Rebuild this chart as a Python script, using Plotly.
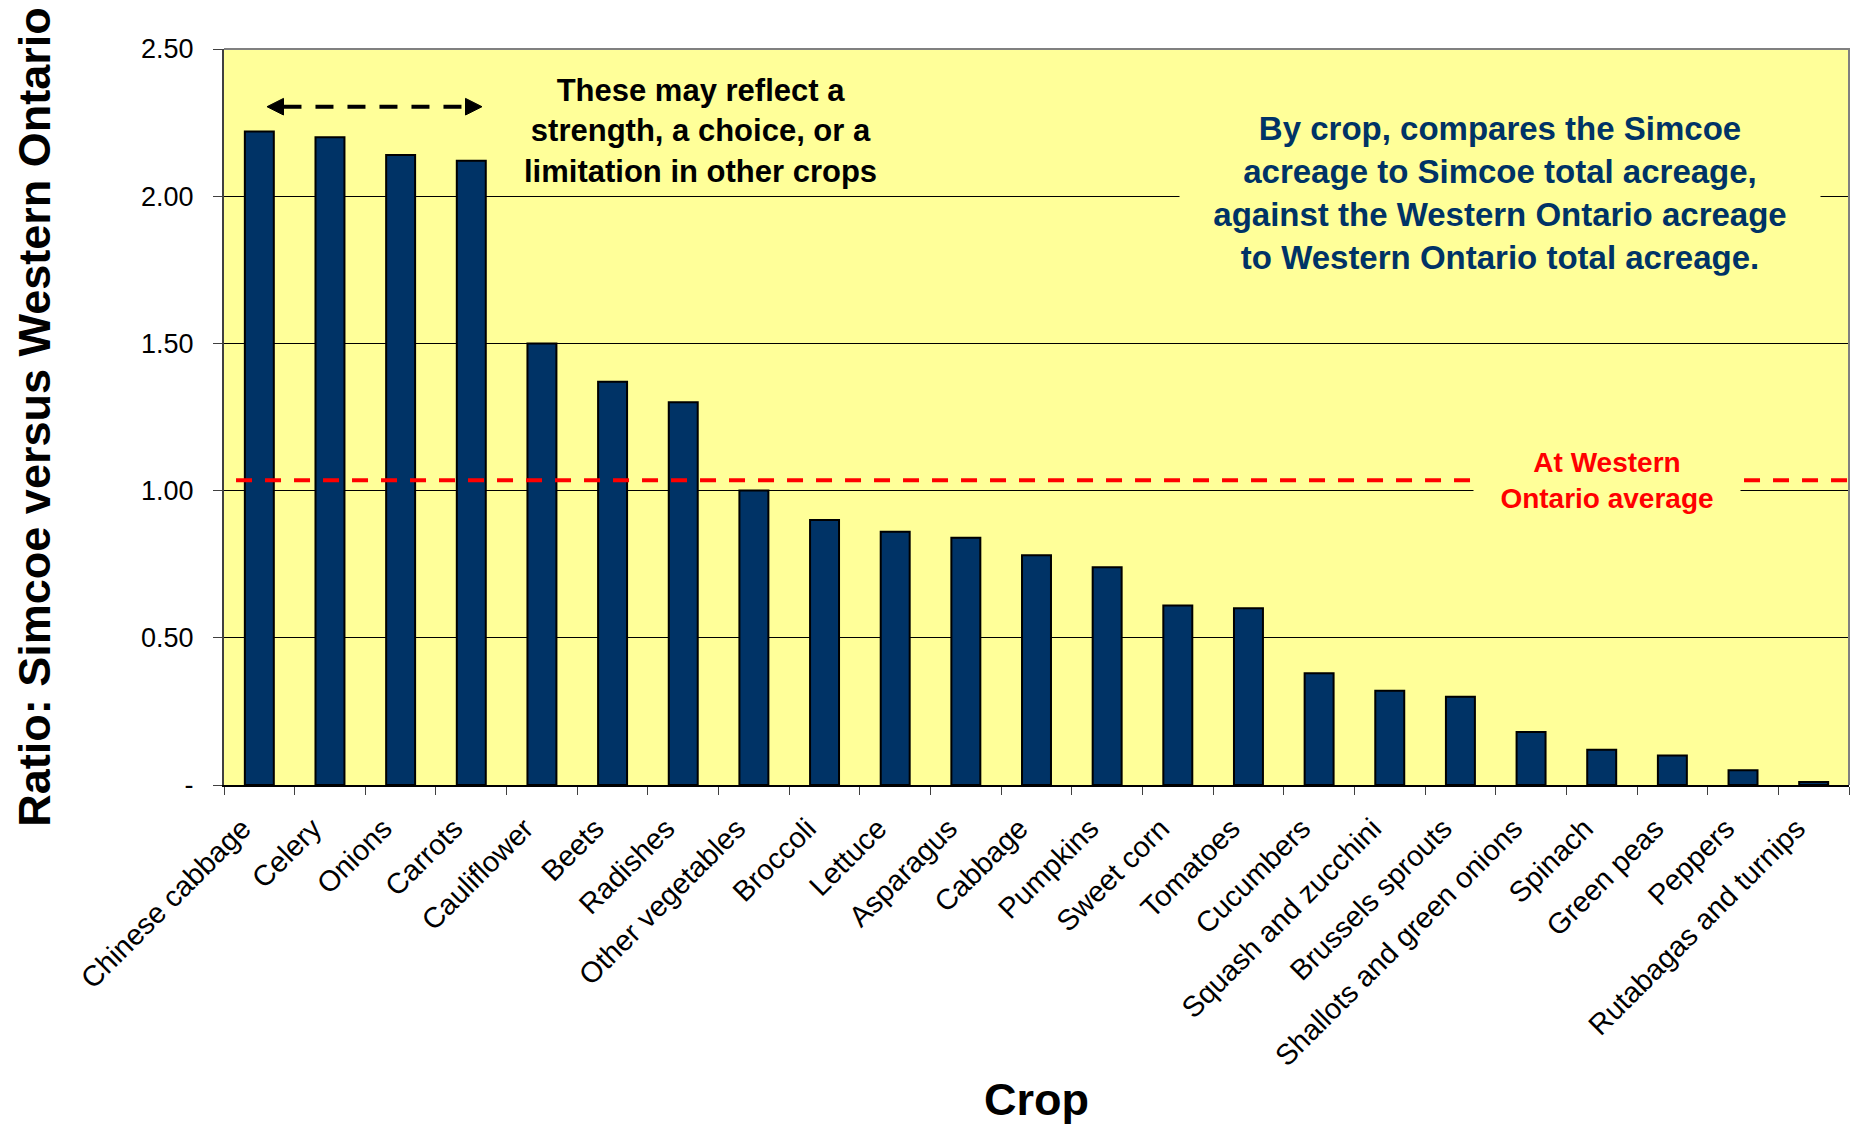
import plotly.graph_objects as go

# Crop ratios: Simcoe share of acreage vs Western Ontario share of acreage
crops = [
    "Chinese cabbage", "Celery", "Onions", "Carrots", "Cauliflower", "Beets",
    "Radishes", "Other vegetables", "Broccoli", "Lettuce", "Asparagus",
    "Cabbage", "Pumpkins", "Sweet corn", "Tomatoes", "Cucumbers",
    "Squash and zucchini", "Brussels sprouts", "Shallots and green onions",
    "Spinach", "Green peas", "Peppers", "Rutabagas and turnips",
]
ratios = [
    2.22, 2.20, 2.14, 2.12, 1.50, 1.37,
    1.30, 1.00, 0.90, 0.86, 0.84,
    0.78, 0.74, 0.61, 0.60, 0.38,
    0.32, 0.30, 0.18,
    0.12, 0.10, 0.05, 0.01,
]
y_tickvals = [0, 0.5, 1.0, 1.5, 2.0, 2.5]
y_ticktext = ["-", "0.50", "1.00", "1.50", "2.00", "2.50"]
western_average = 1.035

FONT = "'Liberation Sans', Arial, sans-serif"
YELLOW = "#FFFF99"
NAVY = "#003366"

fig = go.Figure()
fig.add_trace(go.Bar(
    x=crops, y=ratios,
    marker=dict(color=NAVY, line=dict(color="black", width=2)),
    hoverinfo="x+y",
))

# double-arrow geometry (paper fractions)
ay = 0.9216
ah = 0.0113
shapes = [
    # grey frame on the top and right of the plot area
    dict(type="path", xref="paper", yref="paper", path="M 0,1 L 1,1 L 1,0",
         line=dict(color="#808080", width=2), layer="above"),
    # Western Ontario average reference line
    dict(type="line", xref="paper", yref="y", x0=0.0074, x1=1,
         y0=western_average, y1=western_average,
         line=dict(color="#FF0000", width=4, dash="16px,13px"), layer="above"),
    # dashed double arrow over the top four crops
    dict(type="line", xref="paper", yref="paper", x0=0.0366, x1=0.1486,
         y0=ay, y1=ay,
         line=dict(color="black", width=4, dash="18px,14px"), layer="above"),
    dict(type="path", xref="paper", yref="paper",
         path=f"M 0.02646,{ay} L 0.03662,{ay + ah} L 0.03662,{ay - ah} Z",
         fillcolor="black", line=dict(color="black", width=1), layer="above"),
    dict(type="path", xref="paper", yref="paper",
         path=f"M 0.15877,{ay} L 0.14862,{ay + ah} L 0.14862,{ay - ah} Z",
         fillcolor="black", line=dict(color="black", width=1), layer="above"),
]

annotations = [
    dict(text="These may reflect a<br>strength, a choice, or a<br>limitation in other crops",
         xref="paper", yref="y", x=0.293, y=2.223, showarrow=False,
         xanchor="center", yanchor="middle", align="center",
         font=dict(family=FONT, size=31, color="black", weight="bold")),
    dict(text="By crop, compares the Simcoe<br>acreage to Simcoe total acreage,<br>"
              "against the Western Ontario acreage<br>to Western Ontario total acreage.",
         xref="paper", yref="y", x=0.785, y=2.011, showarrow=False,
         xanchor="center", yanchor="middle", align="center",
         width=620, bgcolor=YELLOW, borderpad=10,
         font=dict(family=FONT, size=33, color=NAVY, weight="bold")),
    dict(text="At Western<br>Ontario average",
         xref="paper", yref="y", x=0.851, y=western_average, showarrow=False,
         xanchor="center", yanchor="middle", align="center",
         width=250, bgcolor=YELLOW, borderpad=8,
         font=dict(family=FONT, size=28, color="#FF0000", weight="bold")),
]

fig.update_layout(
    width=1852, height=1125,
    margin=dict(l=224, r=3, t=49, b=340, autoexpand=False),
    plot_bgcolor=YELLOW, paper_bgcolor="white",
    bargap=0.59, showlegend=False,
    font=dict(family=FONT, color="black"),
    shapes=shapes, annotations=annotations,
)

fig.update_xaxes(
    type="category", tickangle=-45, tickson="boundaries",
    ticks="outside", ticklen=8, tickcolor="#404040", tickwidth=1,
    showline=True, linecolor="black", linewidth=2,
    ticklabelshift=-17, ticklabelstandoff=13,
    tickfont=dict(family=FONT, size=29, color="black"),
    title=dict(text="Crop", standoff=21,
               font=dict(family=FONT, size=45, color="black", weight="bold")),
    automargin=False,
)
fig.update_yaxes(
    range=[0, 2.5], tickvals=y_tickvals, ticktext=y_ticktext,
    showgrid=True, gridcolor="black", gridwidth=1, zeroline=False,
    showline=True, linecolor="#404040", linewidth=2,
    ticks="outside", ticklen=9, tickcolor="#404040", tickwidth=1,
    ticklabelstandoff=14,
    tickfont=dict(family=FONT, size=27, color="black"),
    title=dict(text="Ratio: Simcoe versus Western Ontario", standoff=76,
               font=dict(family=FONT, size=45, color="black", weight="bold")),
    automargin=False,
)

fig.write_html("out.html")
